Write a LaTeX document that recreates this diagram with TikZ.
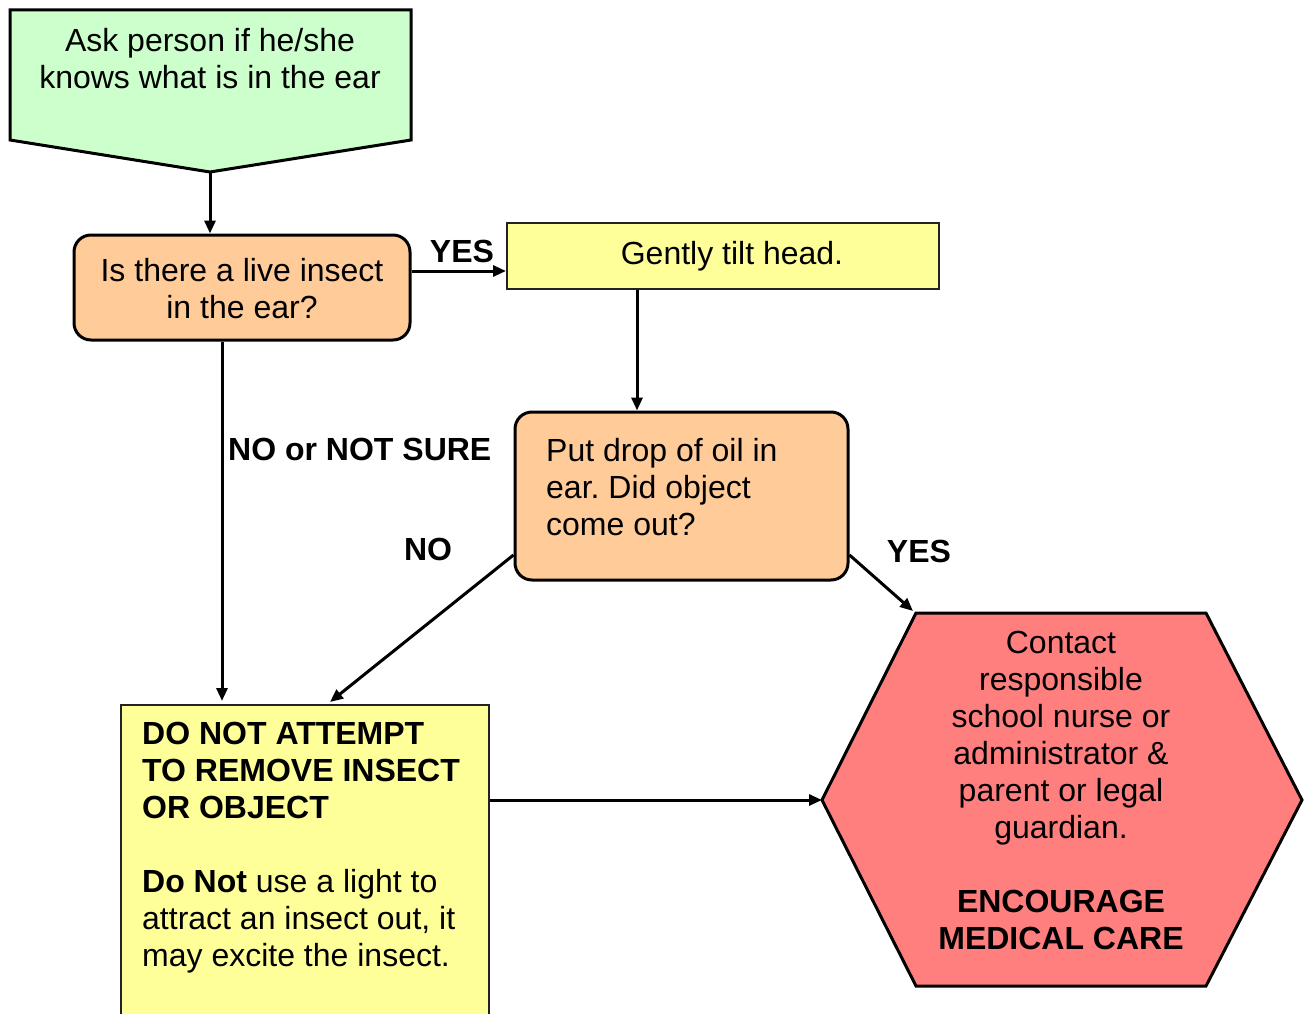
\documentclass[tikz,border=0pt]{standalone}
\usepackage{fontspec}
\setmainfont{Liberation Sans}
\usetikzlibrary{arrows.meta}
\definecolor{pgreen}{HTML}{CCFFCC}
\definecolor{porange}{HTML}{FFCC99}
\definecolor{pyellow}{HTML}{FFFF99}
\definecolor{pred}{HTML}{FF7F7F}
\definecolor{edgegray}{HTML}{222222}
\frenchspacing
\begin{document}
\begin{tikzpicture}[x=1pt,y=-1pt,
  thickshape/.style={draw=black, line width=3pt, line join=miter},
  thinshape/.style={draw=edgegray, line width=2pt},
  roundbox/.style={thickshape, fill=porange, rounded corners=17pt, inner sep=0pt},
  conn/.style={line width=3pt, -{Triangle[length=13pt,width=11pt]}},
  txt/.style={font=\fontsize{32}{37}\selectfont, inner sep=0pt},
  lbl/.style={font=\fontsize{32}{37}\selectfont\bfseries, inner sep=0pt}]
\useasboundingbox (0,0) rectangle (1304,1014);
\clip (0,0) rectangle (1304,1014);

% start pentagon
\coordinate (sTL) at (10,10);
\coordinate (sTR) at (411,10);
\coordinate (sR) at (411,140);
\coordinate (sTip) at (210,172);
\coordinate (sL) at (10,140);
\fill[pgreen] (sTL) -- (sTR) -- (sR) -- (sTip) -- (sL) -- cycle;
\draw[thickshape] (sTL) -- (sTR) -- (sR) -- (sTip) -- (sL) -- cycle;
\node[txt, align=center, anchor=north] (starttxt) at (210,28) {Ask person if he/she\\knows what is in the ear};

% question: live insect
\node[roundbox, minimum width=336pt, minimum height=105pt] (q1) at (242,287.5) {};
\node[txt, align=center, anchor=north] (q1txt) at (242,258) {Is there a live insect\\in the ear?};

% tilt head
\node[thinshape, fill=pyellow, minimum width=432pt, minimum height=66pt, inner sep=0pt] (tilt) at (723,256) {};
\node[txt, anchor=base] (tilttxt) at (732,264) {Gently tilt head.};

% oil
\node[roundbox, minimum width=333pt, minimum height=168pt] (oil) at (681.5,496) {};
\node[txt, align=left, anchor=north west] (oiltxt) at (546,438) {Put drop of oil in\\ear. Did object\\come out?};

% do not remove
\node[thinshape, fill=pyellow, minimum width=368pt, minimum height=340pt, inner sep=0pt] (donot) at (305,875) {};
\node[txt, align=left, anchor=north west] (donottxt) at (142,722)
  {\textbf{DO NOT ATTEMPT}\\\textbf{TO REMOVE INSECT}\\\textbf{OR OBJECT}\\[37pt]\textbf{Do Not} use a light to\\attract an insect out, it\\may excite the insect.};

% hexagon
\coordinate (hTL) at (916,613);
\coordinate (hTR) at (1206,613);
\coordinate (hR) at (1302,800);
\coordinate (hBR) at (1206,986);
\coordinate (hBL) at (916,986);
\coordinate (hL) at (822,800);
\fill[pred] (hTL) -- (hTR) -- (hR) -- (hBR) -- (hBL) -- (hL) -- cycle;
\draw[thickshape] (hTL) -- (hTR) -- (hR) -- (hBR) -- (hBL) -- (hL) -- cycle;
\node[txt, align=center, anchor=north] (hextxt) at (1061,631)
  {Contact\\responsible\\school nurse or\\administrator \&\\parent or legal\\guardian.\\[37pt]\textbf{ENCOURAGE}\\\textbf{MEDICAL CARE}};

% labels
\node[lbl, anchor=base] (yes1) at (462,262) {YES};
\node[lbl, anchor=base west] (nons) at (228,460) {NO or NOT SURE};
\node[lbl, anchor=base] (no2) at (428,560) {NO};
\node[lbl, anchor=base] (yes2) at (919,562) {YES};

% connectors
\draw[conn] (sTip) -- (sTip |- q1.north);
\coordinate (q1yes) at ([yshift=16.5pt]q1.east);
\draw[conn] (q1yes) -- (q1yes -| tilt.west);
\coordinate (tiltout) at ([xshift=-86pt]tilt.south);
\draw[conn] (tiltout) -- (tiltout |- oil.north);
\coordinate (q1no) at ([xshift=-20pt]q1.south);
\draw[conn] (q1no) -- ([yshift=3pt]q1no |- donot.north);
\coordinate (oilno) at ([yshift=-59pt]oil.west);
\coordinate (donotin) at ([xshift=25pt]donot.north);
\draw[conn] (oilno) -- ([yshift=2pt]donotin);
\coordinate (oilyes) at ([yshift=-59pt]oil.east);
\draw[conn] (oilyes) -- ([shift={(-3pt,2pt)}]hTL);
\draw[conn] (donot.east |- hL) -- (hL);
\end{tikzpicture}
\end{document}
